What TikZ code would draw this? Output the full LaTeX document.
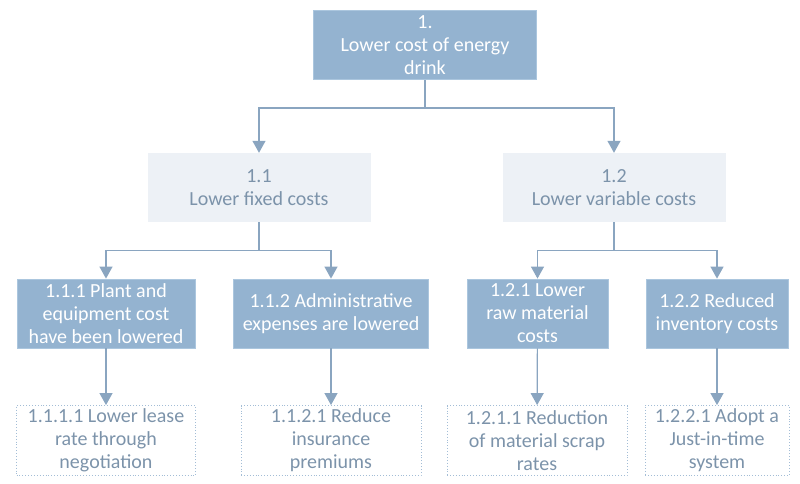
\documentclass[tikz,border=0pt]{standalone}
\usepackage{fontspec}
\setmainfont{Carlito}
\usepackage{xcolor}
\usepackage{tikz}
\usetikzlibrary{arrows,arrows.meta,calc,positioning}
\definecolor{boxblue}{HTML}{94B3D0}
\definecolor{boxedge}{HTML}{ABC6DE}
\definecolor{boxgrey}{HTML}{EDF1F6}
\definecolor{txtgrey}{HTML}{7C93AA}
\definecolor{lineblue}{HTML}{8AA5C0}
\definecolor{dotblue}{HTML}{A3BDD6}
\tikzstyle{goal}=[rectangle, fill=boxblue, draw=boxedge, line width=0.8pt, text=white, align=center, inner sep=0pt, minimum height=69pt, font=\fontsize{20}{23}\selectfont]
\tikzstyle{sub}=[rectangle, fill=boxgrey, text=txtgrey, align=center, inner sep=0pt, minimum height=69pt, minimum width=223pt, font=\fontsize{20}{23}\selectfont]
\tikzstyle{act}=[rectangle, draw=dotblue, dotted, line width=0.9pt, text=txtgrey, align=center, inner sep=0pt, minimum height=70pt, font=\fontsize{20}{23}\selectfont]
\tikzstyle{conn}=[draw=lineblue, line width=1.2pt, -{Triangle[width=13pt,length=12pt]}]

\begin{document}
\begin{tikzpicture}[x=1pt,y=-1pt]
\useasboundingbox (0,0) rectangle (800,483);

\node[goal, minimum width=223pt] (cost) at (425,45) {1.\\Lower cost of energy\\drink};

\node[sub] (fixed) at (259,187.5) {1.1\\Lower fixed costs};
\node[sub] (var) at (614,187.5) {1.2\\Lower variable costs};

\node[goal, minimum width=178pt] (plant) at (106,313.5) {1.1.1 Plant and\\equipment cost\\have been lowered};
\node[goal, minimum width=195pt] (admin) at (331,313.5) {1.1.2 Administrative\\expenses are lowered};
\node[goal, minimum width=141pt] (raw) at (537.5,313.5) {1.2.1 Lower\\raw material\\costs};
\node[goal, minimum width=142pt] (inv) at (717,313.5) {1.2.2 Reduced\\inventory costs};

\node[act, minimum width=179pt] (lease) at (106,440.5) {1.1.1.1 Lower lease\\rate through\\negotiation};
\node[act, minimum width=180pt] (insur) at (331,440.5) {1.1.2.1 Reduce\\insurance\\premiums};
\node[act, minimum width=180pt] (scrap) at (537,440.5) {1.2.1.1 Reduction\\of material scrap\\rates};
\node[act, minimum width=144pt] (jit) at (717,440.5) {1.2.2.1 Adopt a\\Just-in-time\\system};

\coordinate (c0) at ($(cost.south)+(0,28)$);
\coordinate (c1) at ($(fixed.south)+(0,28)$);
\coordinate (c2) at ($(var.south)+(0,28)$);

\draw[conn] (cost.south) -- (c0) -| (fixed.north);
\draw[conn] (c0) -| (var.north);
\draw[conn] (fixed.south) -- (c1) -| (plant.north);
\draw[conn] (c1) -| (admin.north);
\draw[conn] (var.south) -- (c2) -| (raw.north);
\draw[conn] (c2) -| (inv.north);

\draw[conn] (plant) -- (lease);
\draw[conn] (admin) -- (insur);
\draw[conn] (raw) -- (scrap);
\draw[conn] (inv) -- (jit);

\end{tikzpicture}
\end{document}
